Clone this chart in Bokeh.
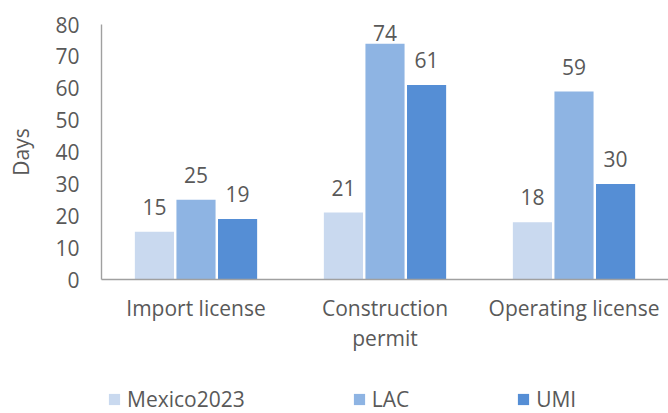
from bokeh.plotting import figure
from bokeh.layouts import column
from bokeh.models import ColumnDataSource, FactorRange, Legend, LegendItem, FixedTicker
from bokeh.core.properties import value
from bokeh.transform import dodge
from bokeh.embed import file_html
from bokeh.resources import INLINE

categories = ["Import license", "Construction\npermit", "Operating license"]
series_names = ["Mexico2023", "LAC", "UMI"]
mexico2023 = [15, 21, 18]
lac = [25, 74, 59]
umi = [19, 61, 30]
y_ticks = [0, 10, 20, 30, 40, 50, 60, 70, 80]

colors = ["#C9D9EF", "#8EB4E3", "#558ED5"]
offsets = [-0.22, 0.0, 0.22]
FONT = "Open Sans"
TXT = "#595959"
FS = "21px"

p = figure(width=668, height=383, x_range=FactorRange(*categories, range_padding=0),
           y_range=(0, 80), output_backend="svg", toolbar_location=None,
           min_border_left=101, min_border_right=0, min_border_top=24, min_border_bottom=104)
p.outline_line_color = None
p.xgrid.grid_line_color = None
p.ygrid.grid_line_color = None

def label_pos(vals):
    # label sits above its bar, but is kept inside the plot area near the top
    return [min(v + 7.8, 77.3) for v in vals]

src = ColumnDataSource(dict(cat=categories, m=mexico2023, l=lac, u=umi,
                            ml=label_pos(mexico2023), ll=label_pos(lac), ul=label_pos(umi),
                            mt=[str(v) for v in mexico2023],
                            lt=[str(v) for v in lac],
                            ut=[str(v) for v in umi]))

for col, lab, txt, off, c in zip(["m", "l", "u"], ["ml", "ll", "ul"], ["mt", "lt", "ut"], offsets, colors):
    p.vbar(x=dodge("cat", off, range=p.x_range), top=col, width=0.207, source=src,
           fill_color=c, line_color=None)
    p.text(x=dodge("cat", off, range=p.x_range), y=lab, text=txt, source=src,
           text_align="center", text_baseline="alphabetic", text_font=value(FONT),
           text_font_size=FS, text_color=TXT)

p.yaxis.ticker = FixedTicker(ticks=y_ticks)
for ax in (p.xaxis, p.yaxis):
    ax.axis_line_color = "#A0A0A0"
    ax.axis_line_width = 1.4
    ax.major_tick_line_color = None
    ax.minor_tick_line_color = None
    ax.major_tick_out = 0
    ax.major_tick_in = 0
    ax.major_label_text_font = FONT
    ax.major_label_text_font_size = FS
    ax.major_label_text_color = TXT
p.yaxis.major_label_standoff = 22
p.yaxis.axis_label = "Days"
p.yaxis.axis_label_text_font = FONT
p.yaxis.axis_label_text_font_size = FS
p.yaxis.axis_label_text_font_style = "normal"
p.yaxis.axis_label_text_color = TXT
p.yaxis.axis_label_standoff = 17
p.xaxis.major_label_standoff = 14
p.xaxis.major_label_text_line_height = 1.08

# legend strip below the chart; its hidden renderers only carry the legend swatches
pl = figure(width=668, height=30, x_range=(0, 1), y_range=(0, 1), output_backend="svg",
            toolbar_location=None, min_border=0, x_axis_location=None, y_axis_location=None)
pl.outline_line_color = None
pl.xgrid.grid_line_color = None
pl.ygrid.grid_line_color = None
swatches = [pl.vbar(x=[0.5], top=[1], width=0.1, fill_color=c, line_color=None, visible=False)
            for c in colors]

legend = Legend(items=[LegendItem(label=n, renderers=[r]) for n, r in zip(series_names, swatches)],
                orientation="horizontal", location=(6, 0), spacing=107,
                glyph_width=14, glyph_height=14, label_standoff=6, padding=0, margin=0,
                border_line_color=None, background_fill_alpha=0, inactive_fill_alpha=0,
                click_policy="none",
                label_text_font=FONT, label_text_font_size=FS, label_text_color=TXT)
pl.add_layout(legend)

layout = column(p, pl, spacing=0)
open("out.html", "w").write(file_html(layout, INLINE))
